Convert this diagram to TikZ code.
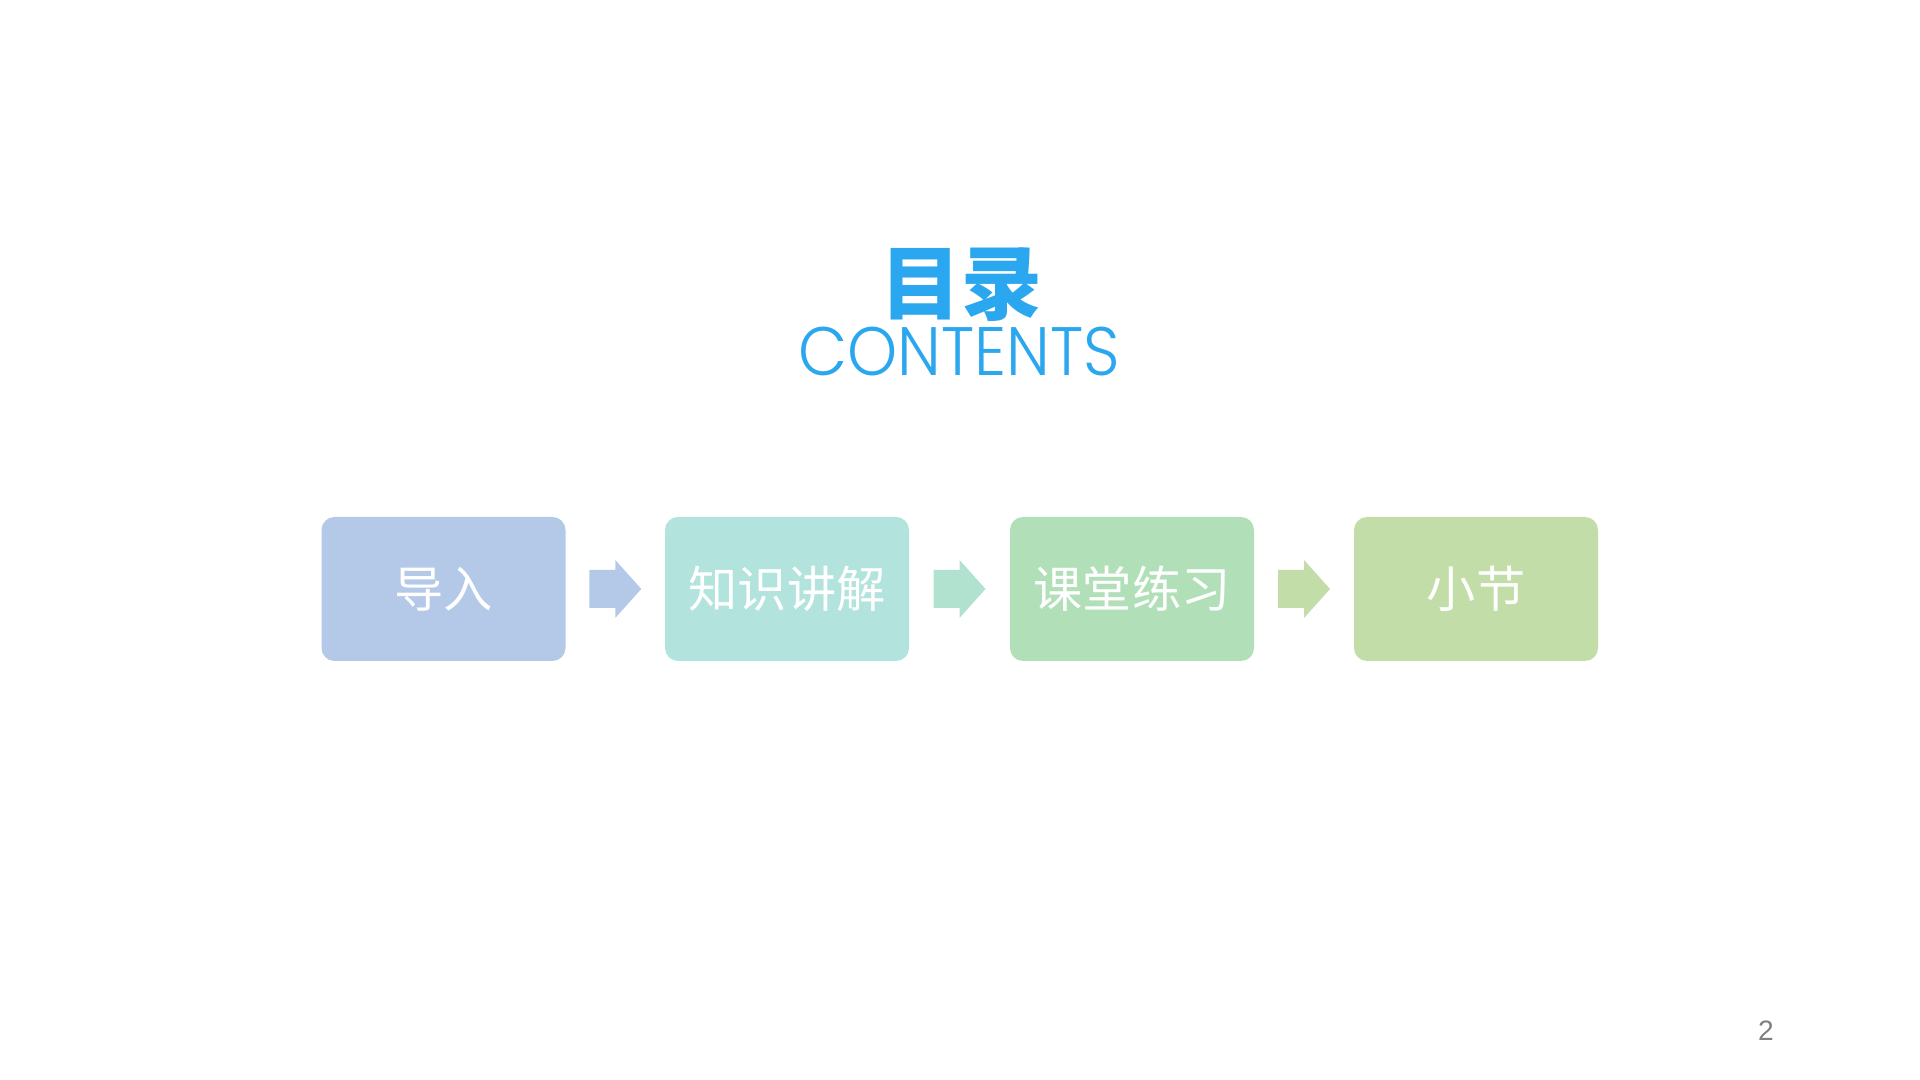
\documentclass[tikz,border=0pt]{standalone}
\usepackage{fontspec}
\newfontfamily\cjk{Noto Sans CJK SC}
\newfontfamily\latin{Poppins}[UprightFont=* Light]
\setmainfont{Liberation Sans}
\usepackage{tikz}
\usetikzlibrary{calc}
\usepackage{xcolor}

\definecolor{titleblue}{HTML}{2AA7EF}
\definecolor{cA}{HTML}{B4C8E8}
\definecolor{cB}{HTML}{B2E4DD}
\definecolor{cC}{HTML}{B1E0B8}
\definecolor{cD}{HTML}{C3DDA9}
\definecolor{cAB}{HTML}{B1E2D0}

\tikzset{
  stepbox/.style={rounded corners=0.13cm,minimum width=2.44cm,minimum height=1.44cm,
    inner sep=0pt,text=white,font=\cjk\fontsize{14pt}{16pt}\selectfont},
  title/.style={text=titleblue,inner sep=0pt}
}

\begin{document}
\begin{tikzpicture}
        \useasboundingbox (0,0) rectangle (19.2,10.8);
        \fill[white] (0,0) rectangle (19.2,10.8);
        % title
        \node[title,font=\cjk\bfseries\fontsize{23pt}{25pt}\selectfont] (ttl) at (9.61,7.95) {目录};
        \node[title,font=\latin\fontsize{19.5pt}{21pt}\selectfont] (sub) at (9.59,7.28) {\scalebox{0.93}[1]{CONTENTS}};
        % boxes
        \foreach \n/\x/\c/\t in {1/4.435/cA/导入,2/7.87/cB/知识讲解,3/11.32/cC/课堂练习,4/14.76/cD/小节} {
          \node[stepbox,fill=\c] (b\n) at (\x,4.91) {\t};
        }
        % arrows
        \foreach \i/\j/\c in {1/2/cA,2/3/cAB,3/4/cD} {
          \path (b\i.east) -- (b\j.west) coordinate[pos=0.5] (m\i);
          \fill[\c] ($(m\i)+(-0.26,0.19)$) -- ($(m\i)+(0,0.19)$) -- ($(m\i)+(0,0.29)$)
            -- ($(m\i)+(0.26,0)$) -- ($(m\i)+(0,-0.29)$) -- ($(m\i)+(0,-0.19)$)
            -- ($(m\i)+(-0.26,-0.19)$) -- cycle;
        }
        \node[text=gray,font=\fontsize{8pt}{10pt}\selectfont] (pg) at (17.66,0.49) {2};
      \end{tikzpicture}
\end{document}
